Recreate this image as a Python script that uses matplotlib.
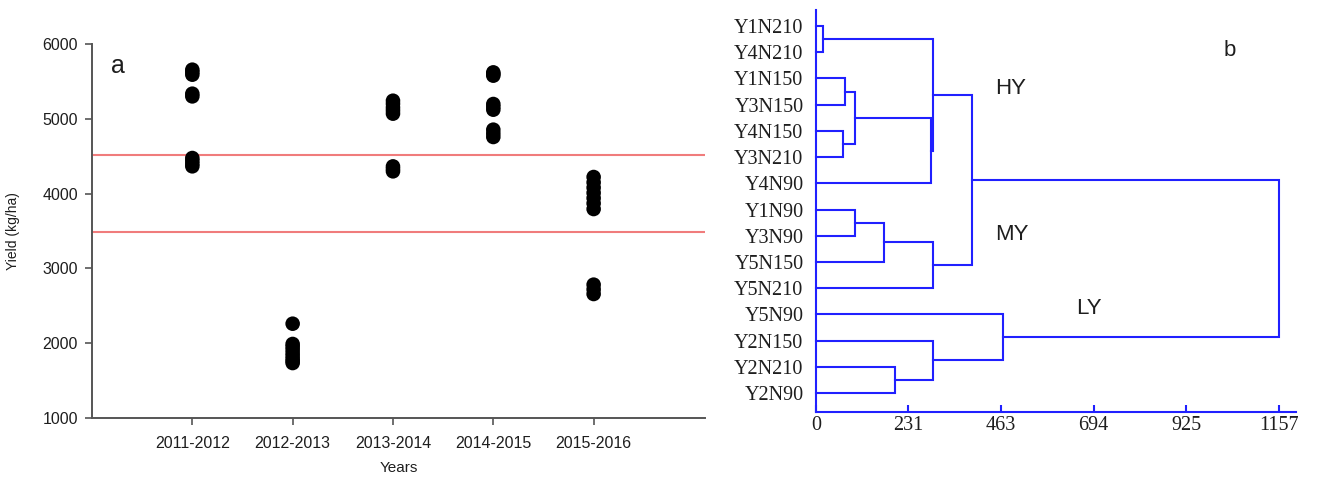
import matplotlib
matplotlib.use("Agg")
import matplotlib.pyplot as plt

# ---------------- data ----------------
years = ["2011-2012", "2012-2013", "2013-2014", "2014-2015", "2015-2016"]
yield_2011 = [5657, 5625, 5590, 5336, 5300, 4476, 4440, 4400, 4365]
yield_2012 = [2261, 1990, 1955, 1915, 1870, 1830, 1790, 1760, 1735]
yield_2013 = [5242, 5200, 5150, 5110, 5069, 4364, 4330, 4298]
yield_2014 = [5621, 5600, 5577, 5198, 5160, 5122, 4855, 4805, 4757]
yield_2015 = [4222, 4150, 4080, 4010, 3940, 3870, 3794, 2783, 2720, 2658]
thresholds = [4520, 3490]

leaves = ["Y1N210", "Y4N210", "Y1N150", "Y3N150", "Y4N150", "Y3N210", "Y4N90",
          "Y1N90", "Y3N90", "Y5N150", "Y5N210", "Y5N90", "Y2N150", "Y2N210", "Y2N90"]
# (node, left child, right child, linkage distance)
merges = [
    ("A", "Y1N210", "Y4N210", 18),
    ("B", "Y1N150", "Y3N150", 72),
    ("C", "Y4N150", "Y3N210", 68),
    ("D", "B", "C", 98),
    ("E", "D", "Y4N90", 288),
    ("F", "A", "E", 293),
    ("G", "Y1N90", "Y3N90", 98),
    ("H", "G", "Y5N150", 170),
    ("I", "H", "Y5N210", 292),
    ("J", "F", "I", 390),
    ("K", "Y2N210", "Y2N90", 198),
    ("L", "Y2N150", "K", 292),
    ("M", "Y5N90", "L", 468),
    ("root", "J", "M", 1157),
]
dist_ticks = [0, 231, 463, 694, 925, 1157]
cluster_labels = [("HY", 448, 2.37), ("MY", 448, 7.95), ("LY", 650, 10.76)]

# ---------------- figure ----------------
fig = plt.figure(figsize=(13.18, 4.79), dpi=100)
sans = ["Liberation Sans", "DejaVu Sans"]
serif = ["Liberation Serif", "DejaVu Serif"]
spine_gray = "#555555"
text_gray = "#1e1e1e"

# panel a: yield by season
ax = fig.add_axes([0.0698, 0.1273, 0.4651, 0.7808])
series = [yield_2011, yield_2012, yield_2013, yield_2014, yield_2015]
for i, vals in enumerate(series, start=1):
    ax.scatter([i] * len(vals), vals, s=110, color="black", edgecolors="none", zorder=3)
for t in thresholds:
    ax.axhline(t, color="#f07c7c", lw=1.5, zorder=2)
ax.set_xlim(0, 6.11)
ax.set_ylim(1000, 6000)
ax.set_xticks(range(1, len(years) + 1))
ax.set_xticklabels(years)
ax.set_yticks([1000, 2000, 3000, 4000, 5000, 6000])
for side in ("top", "right"):
    ax.spines[side].set_visible(False)
for side in ("left", "bottom"):
    ax.spines[side].set_color(spine_gray)
    ax.spines[side].set_linewidth(1.4)
ax.tick_params(direction="out", length=5, width=1.2, color=spine_gray,
               labelsize=11.5, labelcolor=text_gray, pad=5)
for lab in ax.get_xticklabels() + ax.get_yticklabels():
    lab.set_family(sans)
ax.tick_params(axis="x", pad=8)
ax.set_xlabel("Years", fontsize=11, color=text_gray, family=sans, labelpad=7)
ax.set_ylabel("Yield (kg/ha)", fontsize=10, color=text_gray, family=sans, labelpad=16)
ax.text(0.19, 5700, "a", fontsize=18, family=sans, color=text_gray, va="center")

# panel b: dendrogram
bx = fig.add_axes([0.6191, 0.1399, 0.3642, 0.8392])
blue = "#2020ff"
pos = {name: (0.0, float(i)) for i, name in enumerate(leaves)}
for node, a, b, h in merges:
    ha, ya = pos[a]
    hb, yb = pos[b]
    bx.plot([ha, h, h, hb], [ya, ya, yb, yb], color=blue, lw=1.5,
            solid_joinstyle="miter", clip_on=False)
    pos[node] = (h, (ya + yb) / 2.0)

bx.set_xlim(0, 1200)
bx.set_ylim(len(leaves) - 1 + 0.72, -0.61)
bx.set_yticks(range(len(leaves)))
bx.set_yticklabels(leaves)
bx.set_xticks(dist_ticks)
bx.set_xticklabels([str(v) for v in dist_ticks])
for side in ("top", "right"):
    bx.spines[side].set_visible(False)
for side in ("left", "bottom"):
    bx.spines[side].set_color(blue)
    bx.spines[side].set_linewidth(1.5)
bx.tick_params(axis="y", length=0, pad=9, labelsize=14.5, labelcolor=text_gray)
bx.tick_params(axis="x", direction="in", length=5, width=1.5, color=blue,
               labelsize=14.5, labelcolor=text_gray, pad=3)
for lab in bx.get_xticklabels() + bx.get_yticklabels():
    lab.set_family(serif)
for txt, x, y in cluster_labels:
    bx.text(x, y, txt, fontsize=16, family=sans, color=text_gray, va="center", ha="left")
bx.text(1020, 0.92, "b", fontsize=16, family=sans, color=text_gray, va="center", ha="left")

fig.savefig("out.png", dpi=100)
